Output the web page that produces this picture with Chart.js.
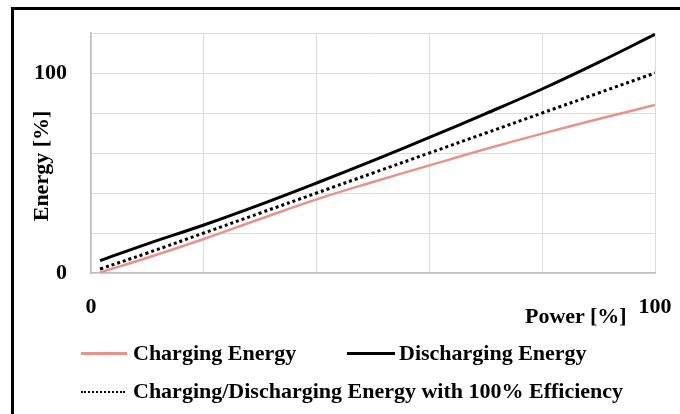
<!DOCTYPE html>
<html>
<head>
<meta charset="utf-8">
<script src="https://cdn.jsdelivr.net/npm/chart.js@4"></script>
<style>
  html, body { margin: 0; padding: 0; background: #fff; overflow: hidden; }
  #wrap { position: relative; width: 680px; height: 414px; font-family: 'Liberation Serif', serif; font-weight: bold; font-size: 22px; color: #000; }
  #wrap canvas { position: absolute; left: 0; top: 0; }
  .frame { position: absolute; left: 11px; top: 7px; width: 720px; height: 460px; border-left: 3px solid #000; border-top: 3px solid #000; pointer-events: none; }
  .txt { position: absolute; line-height: 26px; height: 26px; white-space: nowrap; }
  #yTitle { left: -34px; top: 153px; width: 150px; text-align: center; transform: rotate(-90deg); }
  #xTitle { left: 525px; top: 303px; }
  .leg-item { position: absolute; line-height: 26px; height: 26px; white-space: nowrap; }
  .leg-item .sample { display: inline-block; width: 46px; height: 0; vertical-align: middle; margin-right: 6px; position: relative; top: -1px; }
  .leg-0 { left: 81px; top: 340px; }
  .leg-1 { left: 347px; top: 340px; }
  .leg-1 .sample { width: 48px; margin-right: 4px; }
  .leg-2 { left: 81px; top: 378px; }
  .leg-2 .sample { width: 44px; margin-right: 8px; }
</style>
</head>
<body>
<div id="wrap">
  <canvas id="energyChart" width="680" height="414"></canvas>
  <div class="txt" id="yTitle">Energy [%]</div>
  <div class="txt" id="xTitle">Power [%]</div>
  <div id="legend"></div>
  <div class="frame"></div>
</div>
<script>
// values (power in % of rated, energy in %)
const powerValues       = [1.6, 10, 20, 30, 40, 50, 60, 70, 80, 90, 100];
const chargingEnergy    = [0.3, 7.6, 17, 27, 36.8, 45.5, 53.8, 62, 69.7, 77, 84];
const dischargingEnergy = [6.2, 14.6, 24, 34.2, 45, 56.2, 67.8, 79.7, 92, 105.3, 119.3];
const idealEnergy       = [2, 10, 20, 30, 40, 50, 60, 70, 80, 90, 100];
const xTickLabels = [0, 100];
const yTickLabels = [0, 100];

const COLORS = {
  charging: '#e8928b',
  discharging: '#000000',
  ideal: '#000000',
  grid: '#dcdcdc',
  axis: '#bfbfbf',
  text: '#000000',
};

const TICK_FONT = { family: "'Liberation Serif', serif", size: 22, weight: 'bold' };

const toPoints = ys => powerValues.map((x, i) => ({ x, y: ys[i] }));

const datasets = [
  {
    label: 'Charging Energy',
    data: toPoints(chargingEnergy),
    borderColor: COLORS.charging,
    borderWidth: 2.5,
    legendStyle: 'solid',
  },
  {
    label: 'Discharging Energy',
    data: toPoints(dischargingEnergy),
    borderColor: COLORS.discharging,
    borderWidth: 3,
    legendStyle: 'solid',
  },
  {
    label: 'Charging/Discharging Energy with 100% Efficiency',
    data: toPoints(idealEnergy),
    borderColor: COLORS.ideal,
    borderWidth: 3,
    borderDash: [3, 3],
    legendStyle: 'dotted',
  },
].map(d => ({ ...d, pointRadius: 0, fill: false, tension: 0.4 }));

// keep the plot box where the reference has it, no label overflow padding
function noOverflow(s) {
  s.paddingLeft = 0; s.paddingRight = 0; s.paddingTop = 0; s.paddingBottom = 0;
}

const chart = new Chart(document.getElementById('energyChart'), {
  type: 'line',
  data: { datasets },
  options: {
    responsive: false,
    animation: false,
    layout: { padding: { top: 33, right: 25, left: 0, bottom: 0 } },
    plugins: { legend: { display: false }, tooltip: { enabled: false } },
    scales: {
      x: {
        type: 'linear',
        min: 0, max: 100,
        grid: { color: COLORS.grid, drawTicks: false },
        border: { color: COLORS.axis, width: 1.5 },
        ticks: {
          stepSize: 20,
          padding: 21,
          color: COLORS.text,
          font: TICK_FONT,
          maxRotation: 0,
          callback: v => xTickLabels.includes(v) ? String(v) : '',
        },
        afterFit: s => { s.height = 141; noOverflow(s); },
      },
      y: {
        min: 0, max: 120,
        grid: { color: COLORS.grid, drawTicks: false },
        border: { color: COLORS.axis, width: 1.5 },
        ticks: {
          stepSize: 20,
          padding: 24,
          color: COLORS.text,
          font: TICK_FONT,
          callback: v => yTickLabels.includes(v) ? String(v) : '',
        },
        afterFit: s => { s.width = 91; noOverflow(s); },
      },
    },
  },
});

// html legend built from the datasets
const legendEl = document.getElementById('legend');
chart.data.datasets.forEach((d, i) => {
  const item = document.createElement('div');
  item.className = 'leg-item leg-' + i;
  const sample = document.createElement('span');
  sample.className = 'sample';
  sample.style.borderTop = (d.legendStyle === 'dotted' ? '2px dotted ' : '3px solid ') + d.borderColor;
  item.appendChild(sample);
  item.appendChild(document.createTextNode(d.label));
  legendEl.appendChild(item);
});
</script>
</body>
</html>
